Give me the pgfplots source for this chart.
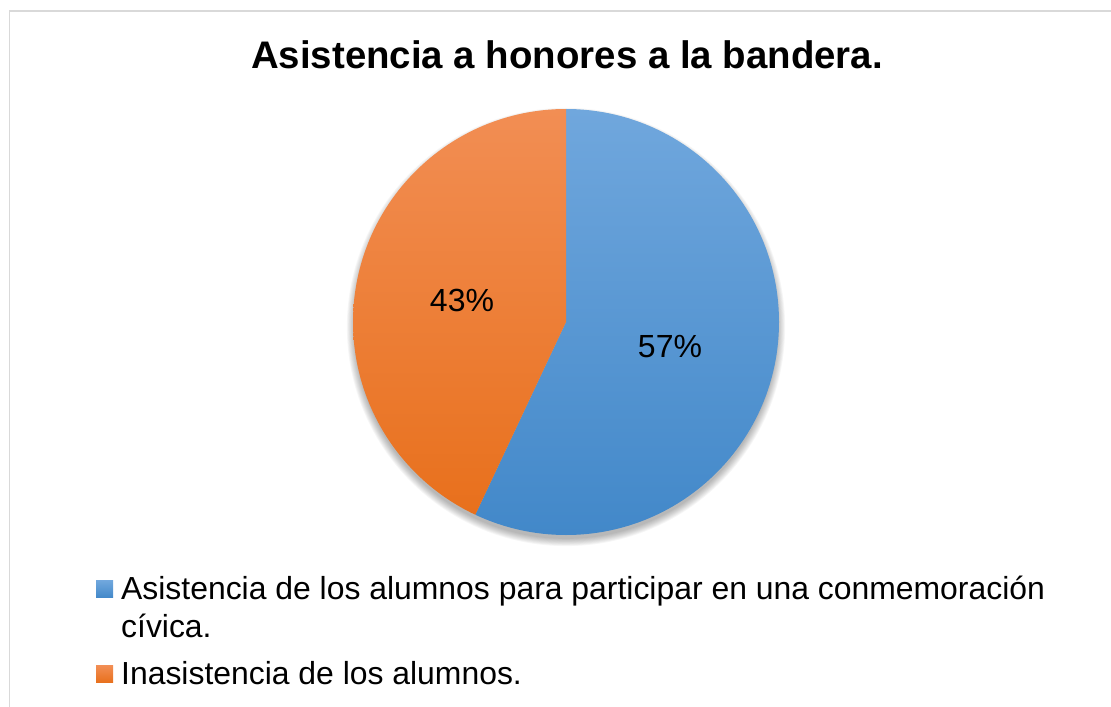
\documentclass[border=0pt]{standalone}
\usepackage{pgfplots}
\pgfplotsset{compat=1.18}
\usepackage{fontspec}
\setmainfont{Liberation Sans}

\definecolor{blueTop}{RGB}{112,167,221}
\definecolor{blueBot}{RGB}{66,136,201}
\definecolor{orangeTop}{RGB}{242,142,84}
\definecolor{orangeBot}{RGB}{232,112,28}
\definecolor{frame}{RGB}{217,217,217}

% share of each slice (percent)
\def\valA{57}
\def\valB{43}
\pgfmathsetmacro{\cut}{90-3.6*\valA}
\pgfmathsetmacro{\cutB}{\cut+360}

\begin{document}
\begin{tikzpicture}
\begin{axis}[
  x=1bp, y=1bp,
  xmin=0, xmax=1111, ymin=0, ymax=707,
  hide axis, clip=false,
  anchor=origin, at={(0,0)},
  legend cell align=left,
  legend style={draw=none, fill=none, inner sep=0pt,
    at={(96/1111,133/707)}, anchor=north west,
    font=\fontsize{31.9bp}{38bp}\selectfont,
    nodes={align=left, inner sep=2bp},
    /tikz/every odd column/.append style={column sep=6bp},
    row sep=18bp},
]
% soft shadow under the pie
\pgfplotsinvokeforeach{1,...,9}{
  \fill[black, opacity=0.035] (axis cs:566,380) circle[radius={(211+0.9*#1)*1bp}];
}
\addplot[draw=none, top color=blueTop, bottom color=blueBot,
  legend image code/.code={\path[top color=blueTop, bottom color=blueBot] (0bp,10bp) rectangle (17bp,27bp);}]
  coordinates {(566,385) (566,598)} arc[start angle=90, end angle=\cut, radius=213bp] -- cycle;
\addlegendentry{Asistencia de los alumnos para participar en una conmemoración\\cívica.}
\addplot[draw=none, top color=orangeTop, bottom color=orangeBot,
  legend image code/.code={\path[top color=orangeTop, bottom color=orangeBot] (0bp,-9bp) rectangle (17bp,8bp);}]
  coordinates {(566,385) (566,598)} arc[start angle=90, end angle=\cutB, radius=213bp] -- cycle;
\addlegendentry{Inasistencia de los alumnos.}

\node[font=\fontsize{32bp}{38bp}\selectfont] at (axis cs:670,360) {57\%};
\node[font=\fontsize{32bp}{38bp}\selectfont] at (axis cs:462,407) {43\%};
\node[font=\bfseries\fontsize{38.4bp}{44bp}\selectfont, anchor=base] at (axis cs:567,638) {Asistencia a honores a la bandera.};
\end{axis}
\draw[frame, line width=1.5bp] (9.5bp,0) -- (9.5bp,696bp) -- (1111bp,696bp);
\pgfresetboundingbox
\useasboundingbox (0,0) rectangle (1111bp,707bp);
\end{tikzpicture}
\end{document}
